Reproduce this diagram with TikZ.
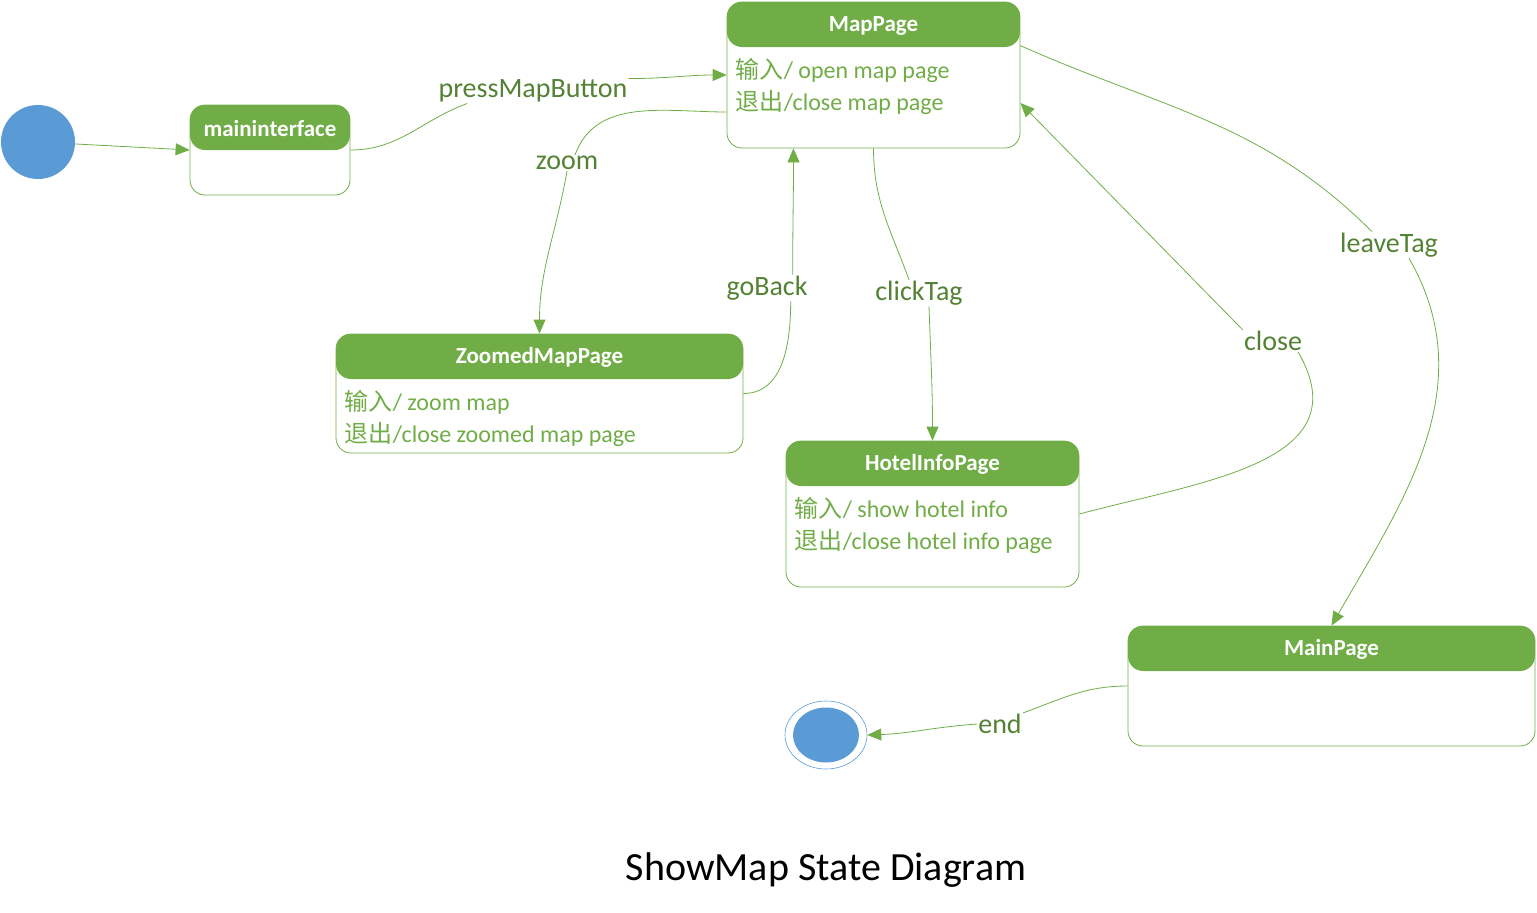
\documentclass[tikz,border=0pt]{standalone}
\usepackage{fontspec}
\setmainfont{Carlito}
\newfontfamily\cjk{Noto Sans CJK SC}
\usetikzlibrary{arrows.meta, positioning, shapes.geometric, calc}

\definecolor{stgreen}{HTML}{70AD47}
\definecolor{lblgreen}{HTML}{548235}
\definecolor{dotblue}{HTML}{5B9BD5}

\begin{document}
\begin{tikzpicture}[
    x=1pt, y=-1pt,
    state/.style={draw=stgreen, line width=0.8pt, rounded corners=15pt, inner sep=0pt,
        path picture={\fill[stgreen] (path picture bounding box.north west) rectangle ([yshift=-45pt]path picture bounding box.north east);}},
    headtext/.style={font=\fontsize{23}{27}\selectfont\bfseries, text=white, inner sep=0pt},
    action/.style={font=\fontsize{24}{32}\selectfont, text=stgreen, align=left, anchor=north west, inner sep=0pt},
    trig/.style={font=\fontsize{28}{30}\selectfont, text=lblgreen, inner sep=1pt},
    edge/.style={draw=stgreen, line width=0.8pt},
    >={Triangle[length=14pt,width=12pt]}
]
\useasboundingbox (0,0) rectangle (1537,913);

% Start and end
\node[circle, fill=dotblue, minimum size=74pt, inner sep=0pt] (init) at (38,142) {};
\node[ellipse, draw=dotblue, line width=0.6pt, minimum width=82pt, minimum height=68pt, inner sep=0pt] (final) at (826,735) {};
\node[ellipse, fill=dotblue, minimum width=66pt, minimum height=55pt, inner sep=0pt] (finaldot) at (final) {};

% States
\node[state, minimum width=160pt, minimum height=90pt] (maininf) at (270,150) {};
\node[headtext] at ([yshift=-24pt]maininf.north) {maininterface};

\node[state, minimum width=293pt, minimum height=146pt] (mappage) at (873.5,75) {};
\node[headtext] at ([yshift=-24pt]mappage.north) {MapPage};
\node[action] at ([shift={(9pt,-56pt)}]mappage.north west) {{\cjk 输入}/ open map page\\{\cjk 退出}/close map page};

\node[state, minimum width=407pt, minimum height=119pt] (zoomed) at (539.5,393.5) {};
\node[headtext] at ([yshift=-24pt]zoomed.north) {ZoomedMapPage};
\node[action] at ([shift={(9pt,-56pt)}]zoomed.north west) {{\cjk 输入}/ zoom map\\{\cjk 退出}/close zoomed map page};

\node[state, minimum width=293pt, minimum height=146pt] (hotel) at (932.5,514) {};
\node[headtext] at ([yshift=-24pt]hotel.north) {HotelInfoPage};
\node[action] at ([shift={(9pt,-56pt)}]hotel.north west) {{\cjk 输入}/ show hotel info\\{\cjk 退出}/close hotel info page};

\node[state, minimum width=407pt, minimum height=120pt] (mainpage) at (1331.5,686) {};
\node[headtext] at ([yshift=-24pt]mainpage.north) {MainPage};

% Triggers
\node[trig] (press) at (533,91) {pressMapButton};
\node[trig] (zoom) at (567,163) {zoom};
\node[trig] (goback) at (767,288) {goBack};
\node[trig] (clicktag) at (919,293) {clickTag};
\node[trig] (close) at (1273,341) {close};
\node[trig] (leave) at (1389,245) {leaveTag};
\node[trig] (endlbl) at (1000,724) {end};

\node[font=\fontsize{40}{44}\selectfont] (caption) at (826,870) {ShowMap State Diagram};

% Transitions
\draw[edge, ->] (init) -- (maininf.west);

\draw[edge] (maininf.east) to[out=0, in=200] ([xshift=30pt]press.south west);
\draw[edge, ->] (press.north east) to[out=0, in=180] (mappage.west);

\draw[edge] ([yshift=-37pt]mappage.west) to[out=180, in=70] ([xshift=8pt]zoom.north);
\draw[edge, ->] (zoom.south) to[out=-100, in=90] (zoomed.north);

\draw[edge] (zoomed.east) to[out=0, in=-90] ([xshift=-18pt]goback.south east);
\draw[edge, ->] ([xshift=-16pt]goback.north east) to[out=90, in=-90] ([xshift=-80pt]mappage.south);

\draw[edge] (mappage.south) to[out=-90, in=110] ([xshift=-10pt]clicktag.north);
\draw[edge, ->] ([xshift=10pt]clicktag.south) to[out=-88, in=90] (hotel.north);

\draw[edge] (hotel.east) to[out=15, in=-60, looseness=1.2] ([xshift=-5pt]close.south east);
\draw[edge, ->] (close.north west) -- ([yshift=-28pt]mappage.east);

\draw[edge] ([yshift=-44pt]mappage.north east) to[out=-24, in=135] ([xshift=-17pt]leave.north);
\draw[edge, ->] ([xshift=20pt]leave.south) to[out=-60, in=60] (mainpage.north);

\draw[edge] (mainpage.west) to[out=180, in=20] (endlbl.north east);
\draw[edge, ->] (endlbl.west) to[out=184, in=2] (final.east);

\end{tikzpicture}
\end{document}
